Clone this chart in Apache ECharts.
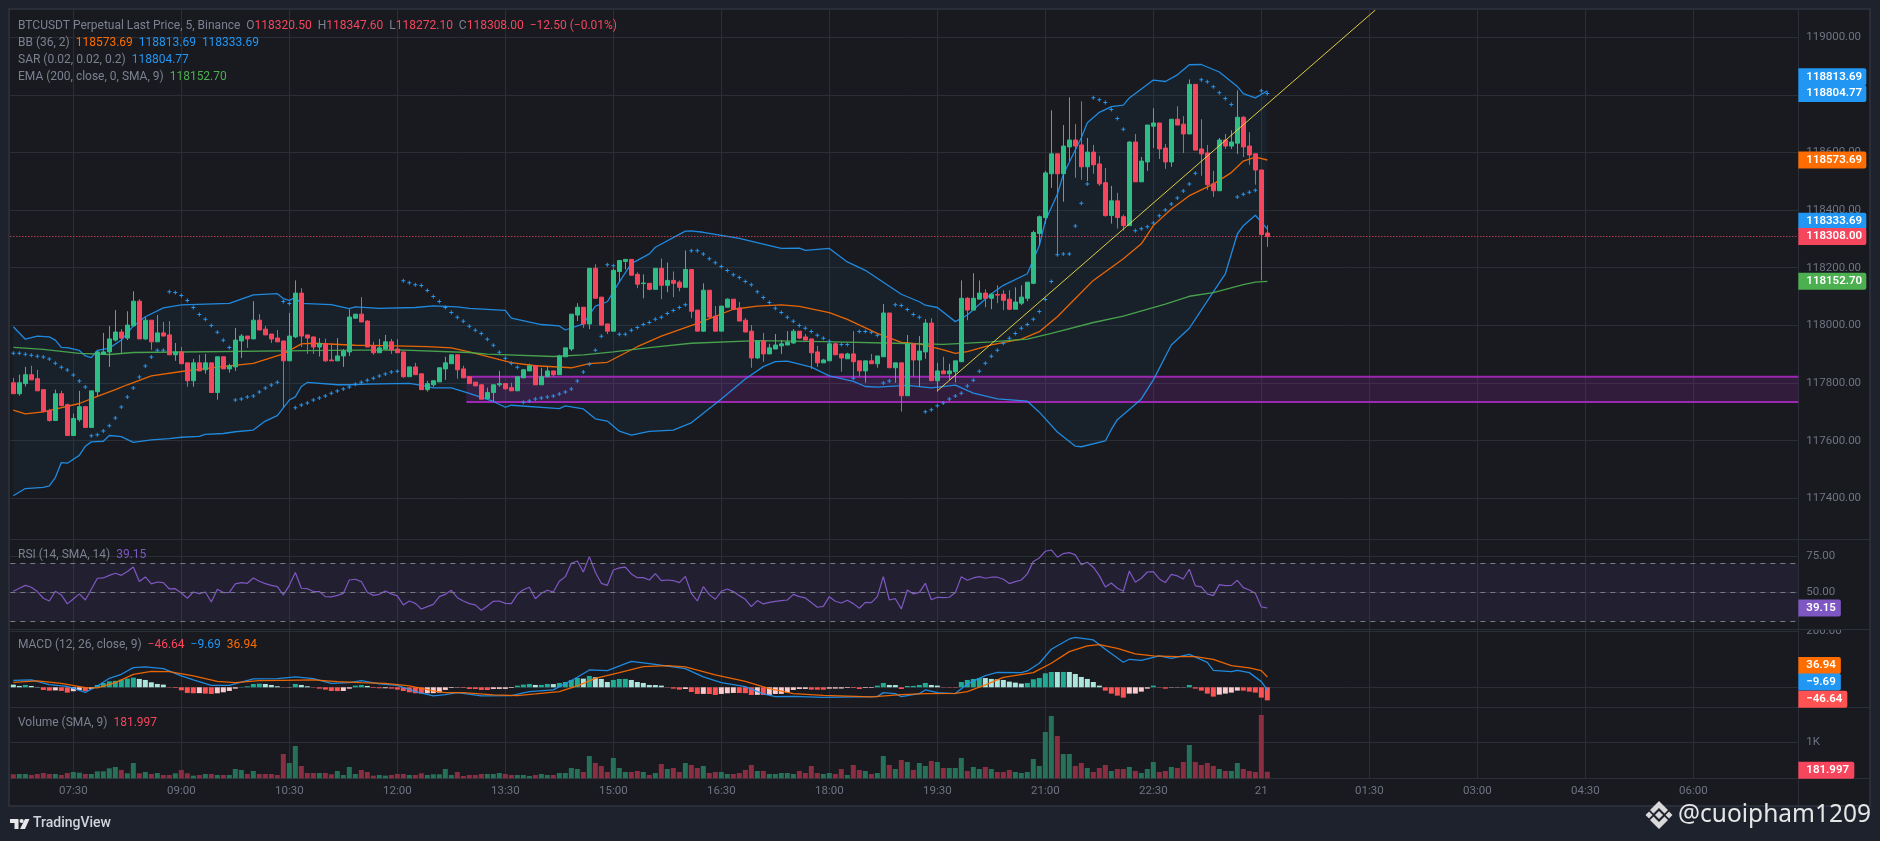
<!DOCTYPE html>
<html><head><meta charset="utf-8">
<style>html,body{margin:0;padding:0;background:#1e222d;overflow:hidden}#c{width:1880px;height:841px}</style>
<script src="https://cdn.jsdelivr.net/npm/echarts@6/dist/echarts.min.js"></script>
</head><body><div id="c"></div>
<script>
// [open, close, low, high]
const candles = [
[117801,117763,117763,117818],[117763,117801,117756,117829],[117798,117829,117788,117856],[117829,117811,117811,117860],[117815,117773,117773,117846],[117777,117701,117701,117777],[117704,117670,117666,117711],[117670,117763,117670,117777],[117763,117722,117719,117773],[117725,117618,117618,117729],
[117618,117677,117618,117694],[117673,117718,117666,117773],[117718,117646,117646,117718],[117646,117773,117646,117773],[117770,117908,117754,117911],[117900,117908,117898,117974],[117908,117953,117856,117998],[117949,117977,117944,118053],[117977,117956,117901,117987],[117956,118001,117949,118049],
[117998,118084,117998,118118],[118084,117953,117953,118091],[117953,118018,117949,118029],[118018,117943,117915,118018],[117943,117974,117943,118036],[117974,117963,117963,118012],[117967,117898,117898,118015],[117898,117908,117877,117939],[117908,117867,117867,117925],[117870,117808,117787,117870],
[117808,117870,117787,117884],[117870,117842,117842,117898],[117846,117870,117832,117901],[117870,117767,117767,117870],[117767,117891,117742,117891],[117891,117849,117849,117891],[117849,117860,117836,117867],[117856,117949,117842,117991],[117946,117963,117887,117970],[117963,117953,117922,117963],
[117953,118018,117953,118084],[118018,117984,117984,118039],[117987,117967,117967,117998],[117970,117953,117939,117970],[117956,117943,117943,117984],[117946,117877,117715,117946],[117877,117963,117877,118043],[117960,118112,117956,118156],[118112,117963,117925,118129],[117967,117956,117901,117967],
[117960,117925,117901,117960],[117925,117937,117892,117956],[117937,117877,117874,117954],[117880,117877,117877,117938],[117877,117894,117877,117956],[117894,117911,117856,117918],[117908,118029,117894,118056],[118025,118039,118022,118039],[118039,118012,118012,118098],[118015,117925,117925,118018],
[117929,117905,117898,117943],[117905,117922,117905,117953],[117918,117943,117918,117967],[117943,117915,117901,117953],[117918,117905,117905,117953],[117908,117822,117818,117908],[117822,117856,117822,117856],[117856,117829,117829,117870],[117832,117777,117777,117832],[117777,117798,117770,117808],
[117794,117808,117787,117808],[117804,117853,117804,117853],[117849,117870,117811,117891],[117867,117898,117867,117898],[117898,117846,117815,117898],[117849,117818,117818,117860],[117822,117798,117798,117822],[117803,117790,117790,117803],[117794,117744,117744,117794],[117746,117767,117746,117784],
[117767,117794,117737,117794],[117794,117798,117787,117842],[117798,117780,117777,117798],[117784,117773,117773,117801],[117773,117822,117773,117822],[117818,117846,117818,117849],[117842,117860,117842,117867],[117860,117794,117794,117863],[117794,117822,117794,117853],[117822,117842,117822,117856],
[117842,117829,117822,117842],[117829,117894,117829,117898],[117891,117922,117891,117922],[117918,118039,117911,118039],[118036,118063,118015,118077],[118063,118005,117991,118063],[118005,118198,117987,118198],[118198,118094,118094,118212],[118098,118001,118001,118098],[118005,117980,117970,118005],
[117980,118191,117980,118198],[118187,118225,118153,118225],[118222,118229,118194,118229],[118229,118174,118174,118229],[118177,118143,118129,118184],[118145,118147,118094,118177],[118146,118125,118122,118146],[118125,118198,118125,118198],[118198,118139,118091,118232],[118139,118156,118115,118218],
[118156,118146,118098,118187],[118150,118132,118118,118156],[118132,118194,118132,118260],[118194,118049,118025,118194],[118053,117980,117980,118053],[117980,118122,117977,118146],[118122,118029,118022,118122],[118032,117980,117980,118067],[117980,118067,117980,118067],[118063,118091,118063,118094],
[118091,118056,118053,118091],[118060,118015,118015,118081],[118018,117977,117977,118025],[117980,117887,117853,118001],[117887,117946,117884,117946],[117946,117901,117874,117974],[117901,117922,117901,117936],[117918,117932,117918,117970],[117929,117936,117901,117949],[117932,117942,117932,117980],
[117939,117980,117936,117987],[117980,117956,117953,117980],[117960,117949,117949,117970],[117953,117905,117849,117953],[117908,117870,117856,117929],[117870,117880,117870,117884],[117877,117936,117877,117942],[117936,117898,117898,117936],[117901,117887,117839,117901],[117884,117901,117884,117905],
[117901,117874,117822,117980],[117877,117842,117822,117877],[117842,117877,117801,117877],[117877,117867,117867,117901],[117867,117894,117853,117894],[117891,118043,117891,118074],[118043,117853,117853,118043],[117853,117870,117801,117870],[117870,117756,117701,117870],[117756,117936,117756,117967],
[117936,117880,117822,117936],[117880,117911,117787,117963],[117908,118008,117884,118022],[118008,117808,117808,118025],[117808,117842,117770,117870],[117842,117832,117832,117891],[117832,117842,117811,117867],[117839,117877,117802,117877],[117874,118094,117874,118156],[118094,118053,118018,118098],
[118053,118094,118053,118181],[118091,118112,118091,118156],[118112,118094,118063,118125],[118094,118108,118056,118112],[118107,118105,118077,118139],[118108,118087,118053,118122],[118091,118056,118053,118122],[118056,118081,118056,118132],[118077,118098,118070,118139],[118094,118150,118084,118150],
[118146,118322,118143,118329],[118319,118377,118277,118381],[118374,118529,118353,118536],[118526,118595,118477,118746],[118595,118526,118243,118595],[118526,118622,118429,118695],[118619,118643,118570,118791],[118643,118622,118512,118698],[118626,118550,118505,118777],[118550,118601,118501,118650],
[118601,118557,118526,118626],[118560,118491,118484,118588],[118495,118381,118377,118546],[118381,118432,118353,118484],[118432,118374,118336,118460],[118377,118346,118329,118384],[118346,118636,118346,118639],[118636,118498,118498,118664],[118498,118570,118498,118584],[118567,118695,118536,118695],
[118691,118702,118615,118753],[118702,118612,118577,118702],[118615,118567,118543,118629],[118567,118715,118550,118715],[118715,118695,118695,118760],[118698,118664,118598,118726],[118664,118836,118664,118853],[118836,118608,118608,118836],[118612,118595,118519,118715],[118598,118488,118470,118626],
[118491,118467,118446,118536],[118467,118643,118467,118650],[118643,118622,118612,118664],[118622,118636,118612,118677],[118632,118722,118595,118815],[118722,118619,118584,118726],[118622,118591,118557,118670],[118595,118539,118488,118595],[118539,118315,118156,118539],[118320.5,118308,118272.1,118347.6]
];
const bbUpper = [[0,117995],[2,117952],[4,117963],[6,117960],[7,117949],[8,117924],[9,117923],[11,117913],[12,117894],[13,117888],[14,117913],[16,117921],[18,117949],[20,117998],[22,118030],[25,118061],[28,118071],[36,118076],[40,118106],[44,118110],[45,118093],[46,118087],[47,118097],[48,118076],[53,118072],[56,118058],[57,118064],[61,118059],[67,118062],[70,118068],[74,118064],[76,118059],[82,118052],[83,118025],[88,118003],[91,117998],[92,117984],[95,118005],[97,118067],[99,118082],[101,118151],[103,118214],[106,118248],[107,118271],[112,118327],[113,118328],[115,118323],[121,118302],[125,118282],[128,118267],[131,118268],[132,118260],[136,118267],[139,118220],[142,118191],[148,118108],[151,118082],[152,118070],[154,118062],[157,118013],[159,118036],[163,118110],[165,118139],[169,118179],[171,118277],[172,118363],[174,118455],[175,118524],[178,118651],[179,118703],[181,118739],[183,118759],[185,118764],[186,118789],[190,118851],[192,118846],[194,118869],[196,118904],[198,118905],[201,118879],[204,118829],[205,118804],[207,118789],[209,118813.69]];
const bbLower = [[0,117409],[2,117434],[5,117438],[6,117443],[7,117472],[8,117524],[9,117522],[11,117549],[12,117581],[13,117596],[15,117598],[16,117618],[18,117614],[20,117594],[23,117603],[26,117607],[28,117612],[31,117615],[32,117622],[35,117625],[37,117631],[40,117637],[42,117668],[44,117687],[46,117741],[47,117752],[48,117788],[49,117802],[54,117794],[56,117794],[59,117796],[66,117799],[68,117792],[70,117783],[73,117783],[76,117764],[80,117736],[82,117716],[83,117723],[91,117711],[92,117721],[95,117710],[97,117676],[99,117668],[101,117633],[103,117619],[106,117632],[110,117637],[113,117662],[118,117745],[122,117814],[125,117857],[127,117874],[129,117876],[133,117855],[136,117825],[140,117806],[142,117788],[144,117786],[149,117792],[153,117783],[157,117793],[160,117765],[164,117745],[169,117737],[171,117699],[174,117630],[177,117581],[178,117579],[182,117599],[183,117639],[184,117673],[186,117708],[188,117745],[190,117811],[193,117932],[196,117990],[200,118116],[202,118179],[204,118317],[205,118346],[207,118382],[209,118333.69]];
const bbBasis = [[0,117706],[2,117693],[5,117700],[11,117729],[14,117754],[17,117777],[19,117794],[23,117825],[28,117840],[34,117855],[40,117868],[45,117901],[48,117936],[50,117938],[57,117931],[62,117930],[69,117926],[73,117922],[76,117908],[83,117871],[87,117860],[93,117853],[96,117867],[99,117872],[104,117926],[108,117963],[114,118007],[120,118056],[124,118067],[128,118071],[131,118066],[136,118044],[139,118021],[144,117972],[148,117941],[151,117936],[155,117915],[157,117903],[159,117909],[163,117932],[168,117952],[171,117978],[174,118030],[177,118093],[180,118156],[185,118231],[188,118283],[190,118346],[193,118404],[196,118450],[200,118490],[203,118530],[205,118570],[207,118584],[209,118573.69]];
const ema200 = [[0,117924],[5,117917],[11,117903],[16,117899],[20,117906],[53,117913],[64,117915],[76,117906],[79,117900],[90,117892],[95,117898],[100,117908],[106,117923],[113,117938],[124,117947],[135,117944],[147,117938],[155,117934],[163,117943],[169,117952],[173,117972],[180,118010],[185,118032],[192,118074],[196,118101],[200,118114],[205,118141],[207,118150],[209,118152.7]];
const sar = [117903,117903,117900,117896,117893,117890,117883,117869,117855,117845,117828,117807,117786,117617,117621,117634,117652,117679,117717,117752,117783,117821,117859,117890,117914,117914,118117,118114,118104,118086,118062,118038,118021,118000,117976,117948,117923,117741,117745,117752,117755,117769,117783,117793,117803,118083,118076,117714,117724,117731,117741,117748,117755,117765,117772,117779,117786,117796,117803,117810,117817,117824,117831,117838,117841,118155,118148,118141,118138,118121,118100,118083,118062,118045,118028,118014,117997,117983,117972,117952,117931,117907,117886,117869,117855,117733,117738,117745,117748,117752,117755,117762,117769,117779,117807,117838,117865,117914,117962,118210,118207,117969,117969,117983,117993,118003,118010,118021,118028,118041,118052,118062,118072,118259,118259,118248,118231,118217,118204,118190,118176,118166,118152,118141,118117,118097,118079,118059,118045,118028,118014,118000,117990,117979,117966,117955,117945,117934,117934,117934,117817,117979,117979,117976,117966,117800,117807,118072,118069,118055,118038,118028,117700,117707,117721,117731,117745,117755,117765,117790,117810,117841,117869,117893,117914,117938,117955,117972,117990,118003,118021,118048,118090,118152,118245,118248,118248,118345,118424,118490,118790,118783,118773,118749,118718,118680,null,118328,118335,118342,118355,118380,118400,118421,118442,118466,118490,118528,118852,118845,118828,118807,118787,118766,118445,118455,118462,118469,118814,118804.77];
const trendLine = [[154,117773],[227,119094]];
const zoneTop = 117822, zoneBottom = 117734, zoneStart = 76;
const rsi = [50.7,52.8,54.8,53.5,50.5,45.9,44.0,50.7,48.2,42.0,45.4,48.9,44.7,52.1,59.7,59.9,61.7,63.1,61.7,64.3,67.5,57.4,60.6,55.8,57.1,56.7,52.3,52.5,49.5,45.9,50.2,49.1,50.2,43.3,52.1,49.8,50.0,55.8,56.7,56.2,59.9,57.6,56.0,54.8,53.9,48.2,54.8,63.6,52.8,52.5,50.5,50.5,47.0,46.8,47.9,49.3,58.5,59.0,57.4,50.0,47.9,48.6,50.9,48.9,47.5,41.3,44.0,42.4,38.5,40.1,41.7,47.0,
48.6,51.4,46.3,44.0,42.2,41.3,37.6,40.6,43.8,44.0,42.4,42.2,48.6,51.8,53.5,45.6,49.3,51.4,50.2,57.6,60.8,70.0,71.6,64.0,74.6,63.8,56.2,54.8,65.4,66.8,67.3,62.7,60.1,60.1,58.5,62.9,58.1,58.5,58.1,56.7,61.0,49.3,44.0,53.9,48.4,45.2,50.7,52.3,50.5,47.7,45.2,40.1,44.3,42.0,43.1,43.8,44.3,44.7,48.6,47.0,46.1,42.9,39.7,40.3,47.0,43.8,42.6,44.5,42.2,39.0,43.1,42.9,
47.0,60.8,44.7,45.6,38.5,51.6,48.9,50.0,56.2,44.9,46.6,46.3,46.6,49.8,60.8,58.3,59.9,60.8,59.7,60.4,60.4,59.0,56.0,57.4,58.5,62.7,71.2,73.7,78.3,79.2,74.2,76.7,77.4,75.8,69.1,70.7,67.3,61.5,53.7,56.4,52.8,50.7,64.7,56.9,59.7,64.0,64.3,59.2,56.7,62.4,61.3,59.2,65.9,54.4,53.7,48.9,47.7,55.3,54.6,54.8,58.3,53.2,51.6,49.3,39.9,39.15];
const macdHist = [9.5,4.8,8.3,4.8,1.2,-9.5,-11.9,-11,-13,-19,-14,-10,-13,-6,8.3,15.5,21.4,23,27,31,34.5,29.8,26.2,17.9,11.9,9.5,-1.2,-2.4,-10.7,-20.2,-21.4,-21,-22.6,-23.8,-21.4,-17.9,-13.1,-4.8,1.2,3.6,11.9,13,11.9,8.3,3.6,-1.2,-1,11.9,8.3,3.6,-1.2,-4.8,-8.3,-13.1,-13.5,-13.1,-4.8,6,8.3,4.8,-2.4,-3.6,-3.4,-4.8,-8.3,-13.1,-17.9,-21.4,-22.6,-21.4,-21,-19,
-9.5,-2.4,-1.2,-2.4,-6,-6.2,-9.5,-9.8,-6,-5.8,-5.6,-2.4,6,9.5,11.9,8.3,8.5,11.9,11.5,15.5,19,26.2,33.3,31,40.5,35.7,29.8,19,26.2,29.8,30,26.2,19,15.5,8.3,8,6,-1.2,-4.8,-8.3,-6,-16.7,-23.8,-23.5,-24,-27.4,-23.8,-21.4,-20.2,-20.5,-21,-27.4,-27,-27.5,-27,-23.8,-23.5,-17.9,-9.5,-6,-5.8,-8.3,-8.5,-8.7,-4.8,-4.6,-4.4,-2.4,-2.6,-6,-2.4,-2.2,
6,15.5,8.3,8,-6,4.8,5,8.3,15.5,8.3,6,-1.2,-1.4,-1.6,19,26.2,29.8,33.3,33,29.8,28.6,26.2,20.2,16.7,13.1,15.5,28.6,33.3,50,54.7,54.5,54.8,54.6,47.6,36.9,29.8,19,6,-11.9,-22.6,-29.8,-36.9,-22.6,-22.4,-15.5,-4.8,6,-1.2,-4.8,-1.2,-1,-0.8,8.3,-4.8,-11.9,-22.6,-33.3,-26.2,-22.6,-19,-11.9,-12,-15.5,-19,-36.9,-46.64];
const macdLine = [[0,25],[3,26.2],[6,9.5],[9,3.6],[12,-17.9],[14,4.8],[16,32.1],[18,46.4],[20,70.2],[22,72.6],[25,66.6],[28,40.5],[30,26.2],[33,7.1],[36,7.1],[40,29.8],[44,30.9],[47,36.9],[50,30.9],[53,14.3],[56,16.7],[58,23.8],[61,11.9],[64,7.1],[67,-15.5],[70,-30.9],[72,-26.2],[74,-19],[78,-30.9],[83,-29.8],[86,-15.5],[90,-9.5],[94,35.7],[96,61.9],[99,59.5],[103,92.8],[107,82.1],[112,66.6],[115,36.9],[118,16.7],[122,2.4],[125,-23.8],[127,-33.3],[130,-32.1],[135,-35.7],[144,-33.3],[145,-19],[147,-22.6],[148,-33.3],[151,-22.6],[152,-9.5],[154,-19],[157,-22.6],[159,11.9],[162,41.7],[164,53.6],[168,52.4],[169,58.3],[171,85.7],[173,135.7],[176,172.6],[177,178.5],[180,169],[182,135.7],[185,89.3],[186,100],[188,96.4],[191,111.9],[193,103.5],[196,117.8],[199,89.3],[200,60.7],[203,55.9],[204,60.7],[206,52.4],[208,20.2],[209,-9.69]];
const macdSignal = [[0,17.9],[4,22.6],[8,14.3],[12,-1.2],[14,-2.4],[17,16.7],[20,46.4],[23,57.1],[26,55.9],[30,40.5],[34,21.4],[37,16.7],[41,23.8],[45,25],[50,26.2],[54,20.2],[58,16.7],[62,14.3],[66,4.8],[70,-13.1],[72,-19],[75,-19],[80,-27.4],[84,-29.8],[87,-23.8],[91,-15.5],[94,4.8],[97,32.1],[101,52.4],[105,73.8],[109,77.4],[112,72.6],[117,44],[122,21.4],[126,-4.8],[130,-22.6],[135,-28.6],[143,-34.5],[148,-26.2],[152,-22.6],[157,-21.4],[159,-15.5],[162,8.3],[165,35.7],[170,52.4],[173,85.7],[176,127.3],[179,147.6],[181,152.3],[184,139.2],[187,119],[190,111.9],[194,109.5],[197,109.5],[200,100],[203,77.4],[206,69],[208,59.5],[209,36.94]];
const volume = [111,120,120,93,120,148,120,120,93,148,176,157,120,120,194,194,278,315,232,139,426,139,176,120,148,93,93,139,232,139,74,93,120,120,93,93,93,259,232,120,204,120,120,120,93,676,426,898,343,148,148,148,148,111,204,93,315,120,232,176,74,93,74,93,120,120,93,93,139,93,111,111,
259,93,176,65,93,93,120,120,120,148,120,93,93,93,65,93,120,93,93,148,148,287,259,176,620,426,343,176,565,287,176,176,204,176,93,148,398,259,287,176,426,370,287,343,148,176,176,120,120,148,232,370,204,204,120,120,148,148,120,204,148,343,148,120,148,120,259,93,370,232,204,120,
148,620,370,259,509,454,232,426,343,482,454,287,287,287,565,204,315,259,315,259,176,176,232,176,148,176,537,343,1287,1732,1176,676,676,343,426,287,176,287,370,204,259,259,315,204,148,259,454,176,204,315,287,454,926,454,370,426,343,259,204,204,426,259,204,176,1759,182];

const priceTicks = [117400,117600,117800,118000,118200,118400,118600,118800,119000];
const rsiTicks = [50,75];
const macdTicks = [0,200];
const volumeTicks = [1000];
const timeTickLabels = ['07:30','09:00','10:30','12:00','13:30','15:00','16:30','18:00','19:30','21:00','22:30','21','01:30','03:00','04:30','06:00'];
const priceTagValues = [118813.69,118804.77,118573.69,118333.69,118308.00,118152.70];
const rsiTagValues = [39.15];
const macdTagValues = [36.94,-9.69,-46.64];
const volumeTagValues = [181.997];

const BAR_COUNT = 298, FIRST_TICK = 10, TICK_EVERY = 18;
const categories = Array.from({length:BAR_COUNT},(_,i)=>{
  const k=(i-FIRST_TICK)/TICK_EVERY;
  if(Number.isInteger(k)&&timeTickLabels[k]) return timeTickLabels[k];
  const m=(400+i*5)%1440;
  return String(Math.floor(m/60)).padStart(2,'0')+':'+String(m%60).padStart(2,'0');
});
const FONT='Roboto,"Noto Sans",sans-serif', FS=12;
const GRID='#2a2e35', BG='#181a20', TXT='#6f7482', LEG='#7c8190';
const UP='#2ebd85', DOWN='#f6465d', BLUE='#2196f3', ORANGE='#ff6d00', GREEN='#4caf50', PURPLE='#7e57c2';
const L=10.33, R=81.67;
const showTick=(i)=>i>=FIRST_TICK&&(i-FIRST_TICK)%TICK_EVERY===0;

const grids=[
 {left:L,right:R,top:10,height:529},
 {left:L,right:R,top:539,height:90},
 {left:L,right:R,top:629,height:78},
 {left:L,right:R,top:707,height:71.3}
];
const xAxes=grids.map((g,k)=>({
  type:'category',gridIndex:k,data:categories,boundaryGap:true,
  axisLine:{show:false},axisTick:{show:false},
  axisLabel:k===3?{show:true,color:TXT,fontFamily:FONT,fontSize:11.5,margin:7,interval:showTick}:{show:false},
  splitLine:{show:true,alignWithLabel:true,interval:showTick,lineStyle:{color:GRID,width:1}}
}));
function yAx(k,min,max,ticks,fmt){return {
  type:'value',gridIndex:k,position:'right',min,max,
  axisLine:{show:false},
  axisTick:{show:false,customValues:ticks},
  axisLabel:{show:true,customValues:ticks,color:TXT,fontFamily:FONT,fontSize:11.5,margin:8,formatter:fmt},
  splitLine:{show:true,lineStyle:{color:GRID,width:1}}
};}
const yAxes=[
 yAx(0,117259,119094,priceTicks,v=>v.toFixed(2)),
 yAx(1,24.69,86.76,rsiTicks,v=>v.toFixed(2)),
 yAx(2,-70.4,208.2,macdTicks,v=>v===0?'':v.toFixed(2)),
 yAx(3,0,1981,volumeTicks,v=>'1K')
];
function line(k,data,color,z,w){return {type:'line',xAxisIndex:k,yAxisIndex:k,data,showSymbol:false,symbol:'none',silent:true,z:z||3,lineStyle:{color,width:w||1.3,opacity:0.9},clip:true};}
function tagSeries(k,values,colors,nudges,widths,fmt){return {
  type:'custom',xAxisIndex:k,yAxisIndex:k,z:20,clip:false,silent:true,
  data:values.map((v,i)=>[0,v,i]),
  renderItem(p,api){
    const i=api.value(2),v=api.value(1);
    const y=api.coord([0,v])[1]+nudges[i],x=p.coordSys.x+p.coordSys.width;
    return {type:'group',children:[
      {type:'rect',shape:{x:x,y:y-8.5,width:widths[i],height:17,r:[0,2,2,0]},style:{fill:colors[i]}},
      {type:'text',style:{x:x+8,y:y,text:fmt(v),fill:'#fff',font:'600 11.5px '+FONT,verticalAlign:'middle',align:'left'}}
    ]};
  }
};}
const signed=v=>(v<0?'\u2212':'')+Math.abs(v).toFixed(2);
const series=[
 {type:'custom',xAxisIndex:0,yAxisIndex:0,z:1,silent:true,clip:true,data:[[0,0]],
  renderItem(p,api){
    const pts=bbUpper.concat(bbLower.slice().reverse()).map(a=>api.coord(a));
    return {type:'polygon',shape:{points:pts},style:{fill:'rgba(33,150,243,0.05)'}};
  }},
 {type:'custom',xAxisIndex:0,yAxisIndex:0,z:2,silent:true,clip:true,data:[[0,0]],
  renderItem(p,api){
    const a=api.coord([zoneStart,zoneTop]),b=api.coord([zoneStart,zoneBottom]);
    const x0=a[0]-3,x1=p.coordSys.x+p.coordSys.width;
    return {type:'group',children:[
      {type:'rect',shape:{x:x0,y:a[1],width:x1-x0,height:b[1]-a[1]},style:{fill:'rgba(156,39,176,0.2)'}},
      {type:'line',shape:{x1:x0,y1:a[1],x2:x1,y2:a[1]},style:{stroke:'#9c27b0',lineWidth:2}},
      {type:'line',shape:{x1:x0,y1:b[1],x2:x1,y2:b[1]},style:{stroke:'#9c27b0',lineWidth:2}}
    ]};
  }},
 line(0,bbUpper,BLUE),line(0,bbLower,BLUE),line(0,bbBasis,ORANGE),line(0,ema200,GREEN),
 {type:'scatter',xAxisIndex:0,yAxisIndex:0,data:sar,z:4,silent:true,symbol:'path://M1.5,0H2.5V1.5H4V2.5H2.5V4H1.5V2.5H0V1.5H1.5Z',symbolSize:4,itemStyle:{color:BLUE,opacity:1}},
 {type:'candlestick',xAxisIndex:0,yAxisIndex:0,data:candles,z:5,silent:true,barWidth:4,
  itemStyle:{color:UP,color0:DOWN,borderColor:UP,borderColor0:DOWN,borderWidth:1},
  markLine:{silent:true,symbol:'none',animation:false,label:{show:false},
    lineStyle:{color:'#ff4d63',type:[1,2],width:1,opacity:1},data:[{yAxis:118308}]}},
 line(0,trendLine,'#f5e04a',6,1),
 tagSeries(0,priceTagValues,[BLUE,BLUE,ORANGE,BLUE,DOWN,GREEN],[-14,0,0,-8,0,0],[68,68,68,68,68,68],v=>v.toFixed(2)),
 {type:'line',xAxisIndex:1,yAxisIndex:1,data:rsi,showSymbol:false,symbol:'none',silent:true,z:3,lineStyle:{color:PURPLE,width:1.2},
  markArea:{silent:true,itemStyle:{color:'rgba(126,87,194,0.1)'},data:[[{yAxis:70},{yAxis:30}]]},
  markLine:{silent:true,symbol:'none',label:{show:false},lineStyle:{color:'#787b86',type:[5,5],width:1},data:[{yAxis:70},{yAxis:50},{yAxis:30}]}},
 tagSeries(1,rsiTagValues,[PURPLE],[0],[42.5],v=>v.toFixed(2)),
 {type:'bar',xAxisIndex:2,yAxisIndex:2,data:macdHist,barWidth:5,silent:true,z:2,
  itemStyle:{color(p){
    const v=p.value,prev=p.dataIndex?macdHist[p.dataIndex-1]:v;
    return v>=0?(v>prev?'#22ab94':'#ace5dc'):(v<prev?'#ff5252':'#fccbcd');
  }}},
 line(2,macdLine,BLUE),line(2,macdSignal,ORANGE),
 tagSeries(2,macdTagValues,[ORANGE,BLUE,'#ff5252'],[-11.5,-8,-1],[42.5,42.5,49],signed),
 {type:'bar',xAxisIndex:3,yAxisIndex:3,data:volume,barWidth:5,silent:true,z:2,
  itemStyle:{color(p){const c=candles[p.dataIndex];return c[1]>=c[0]?'#267158':'#892f41';}}},
 tagSeries(3,volumeTagValues,[DOWN],[-1.5],[56],v=>v.toFixed(3))
];

const rich=(parts)=>parts.map(p=>`{${p[1]}|${p[0]}}`).join('');
const rs=c=>({fill:c,fontFamily:FONT,fontSize:FS});
const richStyles={g:rs(LEG),r:rs(DOWN),o:rs(ORANGE),b:rs(BLUE),n:rs(GREEN),p:rs(PURPLE)};
const legend=(y,parts)=>({type:'text',x:18,y:y,z:30,silent:true,style:{text:rich(parts),rich:richStyles,verticalAlign:'middle',align:'left'}});
const dv='#2a2e39';
const hline=(y,x2)=>({type:'line',z:2,silent:true,shape:{x1:10,y1:y,x2:x2||1870,y2:y},style:{stroke:dv,lineWidth:1}});
const graphic=[
 {type:'rect',z:-5,silent:true,shape:{x:9,y:9,width:1861,height:797},style:{fill:BG,stroke:'#2a2e39',lineWidth:2}},
 hline(539.5),hline(629.5),hline(707.5),hline(778.5),
 {type:'line',z:2,silent:true,shape:{x1:1798.5,y1:10,x2:1798.5,y2:806},style:{stroke:dv,lineWidth:1}},
 {type:'rect',z:25,silent:true,shape:{x:1800,y:617.5,width:68,height:11.5},style:{fill:BG}},
 legend(26,[['BTCUSDT Perpetual Last Price, 5, Binance  O','g'],['118320.50','r'],['  H','g'],['118347.60','r'],['  L','g'],['118272.10','r'],['  C','g'],['118308.00','r'],['  \u221212.50 (\u22120.01%)','r']]),
 legend(43,[['BB (36, 2)  ','g'],['118573.69','o'],['  ','g'],['118813.69','b'],['  ','g'],['118333.69','b']]),
 legend(60,[['SAR (0.02, 0.02, 0.2)  ','g'],['118804.77','b']]),
 legend(77,[['EMA (200, close, 0, SMA, 9)  ','g'],['118152.70','n']]),
 legend(555,[['RSI (14, SMA, 14)  ','g'],['39.15','p']]),
 legend(645,[['MACD (12, 26, close, 9)  ','g'],['\u221246.64','r'],['  ','g'],['\u22129.69','b'],['  ','g'],['36.94','o']]),
 legend(723,[['Volume (SMA, 9)  ','g'],['181.997','r']]),
 {type:'group',z:30,silent:true,children:[
  {type:'polygon',shape:{points:[[10,819],[18.5,819],[18.5,829],[14.5,829],[14.5,823],[10,823]]},style:{fill:'#e8e8ea'}},
  {type:'circle',shape:{cx:21.6,cy:821,r:2.1},style:{fill:'#e8e8ea'}},
  {type:'polygon',shape:{points:[[25,819],[29.5,819],[25,829],[20,829]]},style:{fill:'#e8e8ea'}},
  {type:'text',style:{x:33,y:823.5,text:'TradingView',fill:'#d1d4dc',font:'500 14px '+FONT,verticalAlign:'middle'}}
 ]},
 {type:'group',z:30,silent:true,children:[
  {type:'polygon',shape:{points:[[1659,801],[1668,810],[1664.5,813.5],[1659,808],[1653.5,813.5],[1650,810]]},style:{fill:'#d9d9d9'}},
  {type:'polygon',shape:{points:[[1659,829],[1668,820],[1664.5,816.5],[1659,822],[1653.5,816.5],[1650,820]]},style:{fill:'#d9d9d9'}},
  {type:'polygon',shape:{points:[[1659,811],[1663,815],[1659,819],[1655,815]]},style:{fill:'#d9d9d9'}},
  {type:'polygon',shape:{points:[[1649,811.5],[1652.5,815],[1649,818.5],[1645.5,815]]},style:{fill:'#d9d9d9'}},
  {type:'polygon',shape:{points:[[1669,811.5],[1672.5,815],[1669,818.5],[1665.5,815]]},style:{fill:'#d9d9d9'}},
  {type:'text',style:{x:1678,y:815.5,text:'@cuoipham1209',fill:'#e6e6e6',font:'24.5px "Noto Sans",sans-serif',verticalAlign:'middle'}}
 ]}
];
const chart=echarts.init(document.getElementById('c'),null,{renderer:'canvas',width:1880,height:841});
chart.setOption({backgroundColor:'#1e222d',animation:false,grid:grids,xAxis:xAxes,yAxis:yAxes,series,graphic,tooltip:{show:false},legend:{show:false}});
</script></body></html>
